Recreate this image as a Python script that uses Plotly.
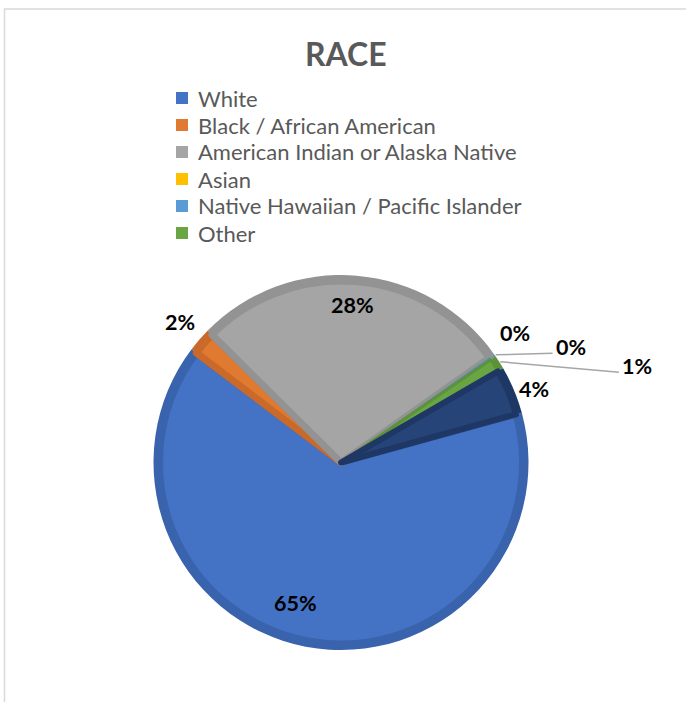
import math
import plotly.graph_objects as go

# Race breakdown (percent of respondents)
categories = ["White", "Black / African American", "American Indian or Alaska Native",
              "Asian", "Native Hawaiian / Pacific Islander", "Other", "Two or More Races"]
values = [64.6, 2.1, 27.8, 0.0, 0.2, 1.2, 4.1]
legend_items = categories[:6]

fill_colors = ["#4472C4", "#E07A30", "#A5A5A5", "#FFC000", "#5B9BD5", "#6AA543", "#264478"]
edge_colors = ["#3A63AD", "#C9692A", "#939393", "#E0A800", "#4F8AC0", "#5C9339", "#1E3764"]
edge_widths = [7, 7, 7, 0, 1, 3, 6]

W, H = 686, 702
CX, CY, R = 341, 462.5, 187.5
START = 74.6          # clockwise from 12 o'clock
BAND = 6


def px(x, y):
    return x / W, 1 - y / H


def domain(radius):
    return dict(x=[(CX - radius) / W, (CX + radius) / W],
                y=[1 - (CY + radius) / H, 1 - (CY - radius) / H])


common = dict(values=values, labels=categories, sort=False, direction="clockwise",
              rotation=START, textinfo="none", hoverinfo="label+percent", showlegend=False)

fig = go.Figure()
# darker rim
fig.add_trace(go.Pie(domain=domain(R), marker=dict(colors=edge_colors, line=dict(width=0)), **common))
# lighter face with darker edges
fig.add_trace(go.Pie(domain=domain(R - BAND),
                     marker=dict(colors=fill_colors, line=dict(color=edge_colors, width=edge_widths)),
                     **common))

# percentage labels placed around each slice's mid angle
label_place = [(0.787, 6.9), (1.14, 0.2), (0.84, -0.6), (1.157, -1.3),
               (1.37, 8.2), (1.66, 14.3), (1.10, 1.8)]
total = sum(values)
angle = START
annotations = []
shapes = []
for i, v in enumerate(values):
    span = 360 * v / total
    mid = angle + span / 2
    angle += span
    rf, da = label_place[i]
    a = math.radians(mid + da)
    lx = CX + rf * R * math.sin(a)
    ly = CY - rf * R * math.cos(a)
    x, y = px(lx, ly)
    annotations.append(dict(x=x, y=y, xref="paper", yref="paper", showarrow=False,
                            xanchor="center", yanchor="middle",
                            text=f"{round(v / total * 100):.0f}%",
                            font=dict(family="Lato", size=21.5, color="#000000", weight="bold")))
    if categories[i] in ("Native Hawaiian / Pacific Islander", "Other"):
        am = math.radians(mid)
        sx, sy = CX + (R + 1) * math.sin(am), CY - (R + 1) * math.cos(am)
        ex, ey = lx - 18, ly + 6
        x0, y0 = px(sx, sy)
        x1, y1 = px(ex, ey)
        shapes.append(dict(type="line", xref="paper", yref="paper", x0=x0, y0=y0, x1=x1, y1=y1,
                           line=dict(color="#A6A6A6", width=1.5)))

# legend (first six categories)
for k, name in enumerate(legend_items):
    yc = 98 + 27 * k
    x0, y0 = px(176, yc - 6)
    x1, y1 = px(188, yc + 6)
    shapes.append(dict(type="rect", xref="paper", yref="paper", x0=x0, x1=x1, y0=y0, y1=y1,
                       fillcolor=fill_colors[k], line=dict(width=0)))
    tx, ty = px(196, yc)
    annotations.append(dict(x=tx, y=ty, xref="paper", yref="paper", showarrow=False,
                            xanchor="left", yanchor="middle", text=name,
                            font=dict(family="Lato", size=22, color="#595959")))

# chart frame
fx0, fy0 = px(4.5, 9)
shapes.append(dict(type="rect", xref="paper", yref="paper", x0=fx0, y0=-0.2, x1=1.2, y1=fy0,
                   line=dict(color="#D9D9D9", width=1.5), fillcolor="rgba(0,0,0,0)", layer="below"))

tx, ty = px(346, 53)
annotations.append(dict(x=tx, y=ty, xref="paper", yref="paper", showarrow=False,
                        xanchor="center", yanchor="middle",
                        text="RACE", font=dict(family="Lato", size=32, color="#595959", weight="bold")))

fig.update_layout(width=W, height=H, margin=dict(l=0, r=0, t=0, b=0),
                  paper_bgcolor="white", plot_bgcolor="white",
                  annotations=annotations, shapes=shapes)

fig.write_html("out.html")
